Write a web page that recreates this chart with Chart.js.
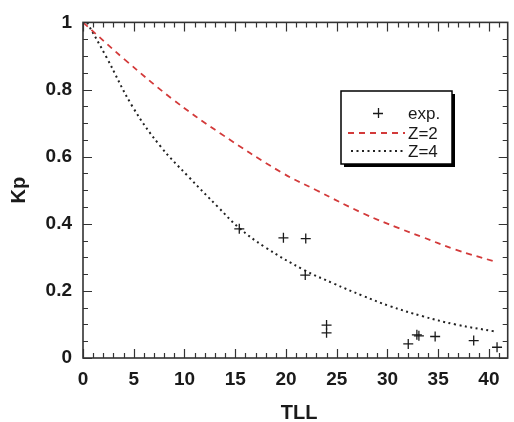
<!DOCTYPE html>
<html><head><meta charset="utf-8">
<script src="https://cdn.jsdelivr.net/npm/chart.js@4/dist/chart.umd.min.js"></script>
<style>html,body{margin:0;padding:0;background:#fff}</style>
</head><body>
<canvas id="c" width="514" height="422"></canvas>
<script>
// ---- data ----
const expTLL = [15.4, 19.75, 21.95, 21.9, 24.0, 24.0, 32.05, 32.9, 33.1, 34.7, 38.5, 40.8];
const expKp  = [0.385, 0.358, 0.356, 0.247, 0.098, 0.075, 0.042, 0.069, 0.066, 0.064, 0.052, 0.032];

const z2TLL = [0, 4.2, 8.75, 13.55, 19.5, 23.0, 27.6, 31.2, 33.4, 36.7, 40.6];
const z2Kp  = [1.0, 0.887, 0.773, 0.669, 0.554, 0.5, 0.431, 0.386, 0.361, 0.323, 0.287];

const z4TLL = [0.4, 2.3, 4.9, 7.6, 10.4, 13.3, 15.3, 17.9, 21.8, 24.7, 27.6, 30.2, 33.4, 36.7, 40.6];
const z4Kp  = [1.0, 0.897, 0.748, 0.632, 0.54, 0.45, 0.39, 0.331, 0.262, 0.222, 0.185, 0.155, 0.125, 0.1, 0.079];

const seriesLabels = ['exp.', 'Z=2', 'Z=4'];
const xTickValues = [0, 5, 10, 15, 20, 25, 30, 35, 40];
const yTickValues = [0, 0.2, 0.4, 0.6, 0.8, 1];
const xTitle = 'TLL';
const yTitle = 'Kp';

const toPts = (xs, ys) => xs.map((x, i) => ({x: x, y: ys[i]}));
const fmt = v => String(Math.round(v * 100) / 100);

const INK = '#1a1a1a';
const RED = '#d33a3a';
const FAMILY = '"Liberation Sans", Arial, sans-serif';

// frame + inward ticks on all four sides, and x title
const framePlugin = {
  id: 'frame',
  afterDatasetsDraw(chart) {
    const {ctx, chartArea: a, scales: {x, y}} = chart;
    ctx.save();
    ctx.strokeStyle = '#333';
    ctx.lineWidth = 1.2;
    ctx.beginPath();
    for (let v = 0; v <= 41; v++) {
      const px = Math.round(x.getPixelForValue(v)) + 0.5;
      const len = v % 5 === 0 ? 9 : 5;
      ctx.moveTo(px, a.bottom); ctx.lineTo(px, a.bottom - len);
      ctx.moveTo(px, a.top); ctx.lineTo(px, a.top + len);
    }
    for (let i = 0; i <= 20; i++) {
      const v = i * 0.05;
      const py = Math.round(y.getPixelForValue(v)) + 0.5;
      const len = i % 4 === 0 ? 9 : 5;
      ctx.moveTo(a.left, py); ctx.lineTo(a.left + len, py);
      ctx.moveTo(a.right, py); ctx.lineTo(a.right - len, py);
    }
    ctx.stroke();
    ctx.lineWidth = 1.6;
    ctx.strokeRect(a.left, a.top, a.right - a.left, a.bottom - a.top);
    // x-axis title
    ctx.fillStyle = INK;
    ctx.font = 'bold 20px ' + FAMILY;
    ctx.textAlign = 'center';
    ctx.textBaseline = 'middle';
    ctx.fillText(xTitle, x.getPixelForValue(21.3), 413);
    ctx.restore();
  }
};

// boxed legend with drop shadow inside the plot
const legendPlugin = {
  id: 'boxLegend',
  afterDraw(chart) {
    const {ctx} = chart;
    const bx = 341, by = 91, bw = 111, bh = 73;
    ctx.save();
    ctx.fillStyle = '#000';
    ctx.fillRect(bx + 3, by + 3, bw, bh);
    ctx.fillStyle = '#fff';
    ctx.fillRect(bx, by, bw, bh);
    ctx.strokeStyle = '#000';
    ctx.lineWidth = 1.5;
    ctx.strokeRect(bx, by, bw, bh);
    const ds = chart.data.datasets;
    const rows = [113, 133, 151];
    ctx.font = '17px ' + FAMILY;
    ctx.textBaseline = 'middle';
    ctx.fillStyle = INK;
    ds.forEach((d, i) => {
      const yy = rows[i];
      if (i === 0) {
        ctx.strokeStyle = INK; ctx.lineWidth = 1.3; ctx.setLineDash([]);
        ctx.beginPath();
        ctx.moveTo(373, yy + 0.5); ctx.lineTo(383, yy + 0.5);
        ctx.moveTo(378.5, yy - 5); ctx.lineTo(378.5, yy + 5);
        ctx.stroke();
      } else {
        ctx.strokeStyle = d.borderColor; ctx.lineWidth = d.borderWidth;
        ctx.setLineDash(d.borderDash);
        ctx.beginPath();
        ctx.moveTo(i === 1 ? 348 : 351, yy); ctx.lineTo(405, yy);
        ctx.stroke();
        ctx.setLineDash([]);
      }
      ctx.fillText(d.label, 408, yy + 1);
    });
    ctx.restore();
  }
};

const tickFont = {family: FAMILY, size: 19, weight: 'bold'};
const titleFont = {family: FAMILY, size: 20, weight: 'bold', lineHeight: 1};

new Chart(document.getElementById('c'), {
  type: 'scatter',
  data: {
    datasets: [
      {
        label: seriesLabels[0],
        data: toPts(expTLL, expKp),
        pointStyle: 'cross', pointRadius: 5, pointHoverRadius: 5,
        borderColor: INK, backgroundColor: INK, borderWidth: 1.3,
        showLine: false, order: 0
      },
      {
        label: seriesLabels[1],
        data: toPts(z2TLL, z2Kp),
        showLine: true, pointRadius: 0, borderColor: RED, borderWidth: 1.8,
        borderDash: [6, 5], tension: 0.4, fill: false, order: 1
      },
      {
        label: seriesLabels[2],
        data: toPts(z4TLL, z4Kp),
        showLine: true, pointRadius: 0, borderColor: '#222', borderWidth: 2,
        borderDash: [2, 3.5], tension: 0.4, fill: false, order: 2
      }
    ]
  },
  options: {
    responsive: false,
    animation: false,
    devicePixelRatio: 1,
    layout: {padding: {top: 22, right: 1, left: 0, bottom: 0}},
    plugins: {legend: {display: false}, tooltip: {enabled: false}},
    scales: {
      x: {
        type: 'linear', min: 0, max: 41.85,
        afterBuildTicks: s => { s.ticks = xTickValues.map(v => ({value: v})); },
        afterFit: s => { s.height = 64; },
        grid: {display: false, drawTicks: false},
        border: {display: false},
        ticks: {font: tickFont, color: INK, padding: 10, maxRotation: 0, autoSkip: false, callback: fmt},
        title: {display: false}
      },
      y: {
        type: 'linear', min: 0, max: 1,
        afterBuildTicks: s => { s.ticks = yTickValues.map(v => ({value: v})); },
        afterFit: s => { s.width = 83; },
        grid: {display: false, drawTicks: false},
        border: {display: false},
        ticks: {font: tickFont, color: INK, padding: 11, autoSkip: false, callback: fmt},
        title: {display: true, text: yTitle, font: titleFont, color: INK, padding: {top: 9, bottom: 0}}
      }
    }
  },
  plugins: [framePlugin, legendPlugin]
});
</script>
</body></html>
